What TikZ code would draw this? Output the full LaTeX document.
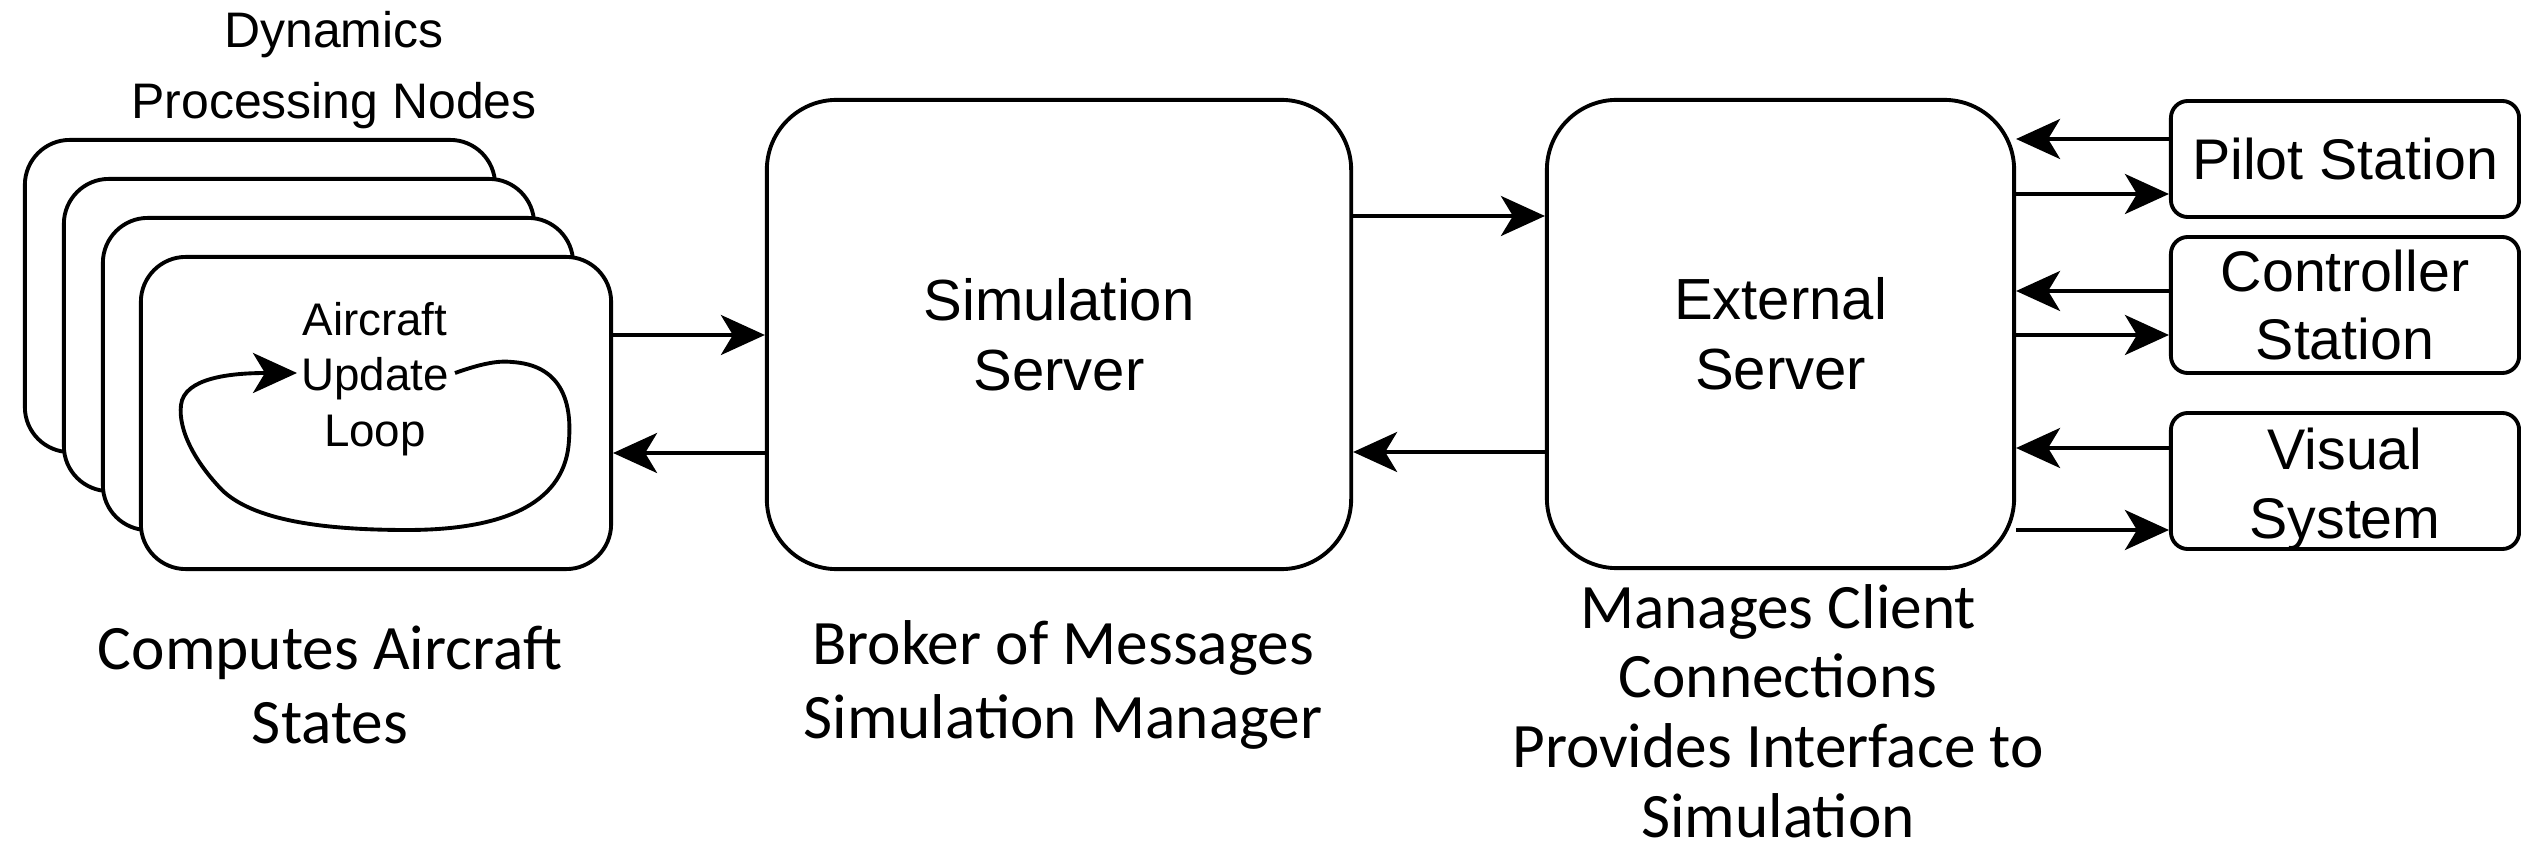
\documentclass[tikz,border=0pt]{standalone}
\usepackage{fontspec}
\setmainfont{Liberation Sans}
\newfontfamily\notefont{Carlito}
\usetikzlibrary{arrows.meta}

\tikzset{
  box/.style={draw, fill=white, inner sep=0pt, align=center},
  dynbox/.style={box, minimum width=4.70cm, minimum height=3.12cm, rounded corners=0.45cm},
  server/.style={box, rounded corners=0.70cm, font=\fontsize{16.5}{19.9}\selectfont},
  station/.style={box, minimum width=3.48cm, rounded corners=0.17cm, font=\fontsize{16.3}{19.6}\selectfont},
  caption/.style={align=center, inner sep=0pt},
  note/.style={align=center, inner sep=0pt, font=\notefont\fontsize{18}{21}\selectfont},
  arr/.style={-{Stealth[length=0.44cm, width=0.40cm, inset=0.12cm]}}
}

\begin{document}
\begin{tikzpicture}[x=0.01cm, y=-0.01cm, line width=1.1pt]
\useasboundingbox (0,0) rectangle (2521,855);

% stacked dynamics processing nodes, back to front
\node[dynbox] (dyn1) at (260,296) {};
\node[dynbox] (dyn2) at (299,335) {};
\node[dynbox] (dyn3) at (338,374) {};
\node[dynbox] (front) at (376,413) {};
\node[caption, font=\fontsize{14.2}{20.2}\selectfont] (dynlabel) at (334,70) {Dynamics\\Processing Nodes};

% update loop inside the front node
\node[caption, font=\fontsize{13}{15.8}\selectfont] (loop) at (375,379) {Aircraft\\Update\\Loop};
\coordinate (loopstart) at (455,373);
\coordinate (looptip) at (297,373);
\draw[arr] (loopstart) .. controls (475,366) and (495,360) .. (512,362)
  .. controls (560,365) and (572,400) .. (569,440)
  .. controls (566,500) and (510,530) .. (407,530)
  .. controls (310,530) and (250,517) .. (222,490)
  .. controls (195,462) and (178,430) .. (181,405)
  .. controls (184,378) and (230,373) .. (looptip);

% servers
\node[server, minimum width=5.84cm, minimum height=4.69cm] (sim) at (1059,334.5) {Simulation\\Server};
\node[server, minimum width=4.67cm, minimum height=4.68cm] (ext) at (1780.5,334) {External\\Server};

% client stations
\node[station, minimum height=1.16cm] (pilot) at (2345,159) {Pilot Station};
\node[station, minimum height=1.36cm] (ctrl) at (2345,305) {Controller\\Station};
\node[station, minimum height=1.36cm] (vis) at (2345,481) {};
\node[caption, font=\fontsize{16.3}{19.6}\selectfont] (vislabel) at (2345,489) {Visual\\System};

% message flow
\draw[arr] (front.east |- 0,335) -- (sim.west |- 0,335);
\draw[arr] (sim.west |- 0,453) -- (front.east |- 0,453);
\draw[arr] (sim.east |- 0,216) -- (ext.west |- 0,216);
\draw[arr] (ext.west |- 0,452) -- (sim.east |- 0,452);
\draw[arr] (pilot.west |- 0,139) -- (ext.east |- 0,139);
\draw[arr] (ext.east |- 0,194) -- (pilot.west |- 0,194);
\draw[arr] (ctrl.west |- 0,291) -- (ext.east |- 0,291);
\draw[arr] (ext.east |- 0,335) -- (ctrl.west |- 0,335);
\draw[arr] (vis.west |- 0,448) -- (ext.east |- 0,448);
\draw[arr] (ext.east |- 0,530) -- (vis.west |- 0,530);

% role descriptions
\node[note] (dynnote) at (330,685) {Computes Aircraft\\States};
\node[note] (simnote) at (1063,685) {Broker of Messages\\Simulation Manager};
\node[note, font=\notefont\fontsize{18}{19.8}\selectfont] (extnote) at (1778,711) {Manages Client\\Connections\\Provides Interface to\\Simulation};
\end{tikzpicture}
\end{document}
